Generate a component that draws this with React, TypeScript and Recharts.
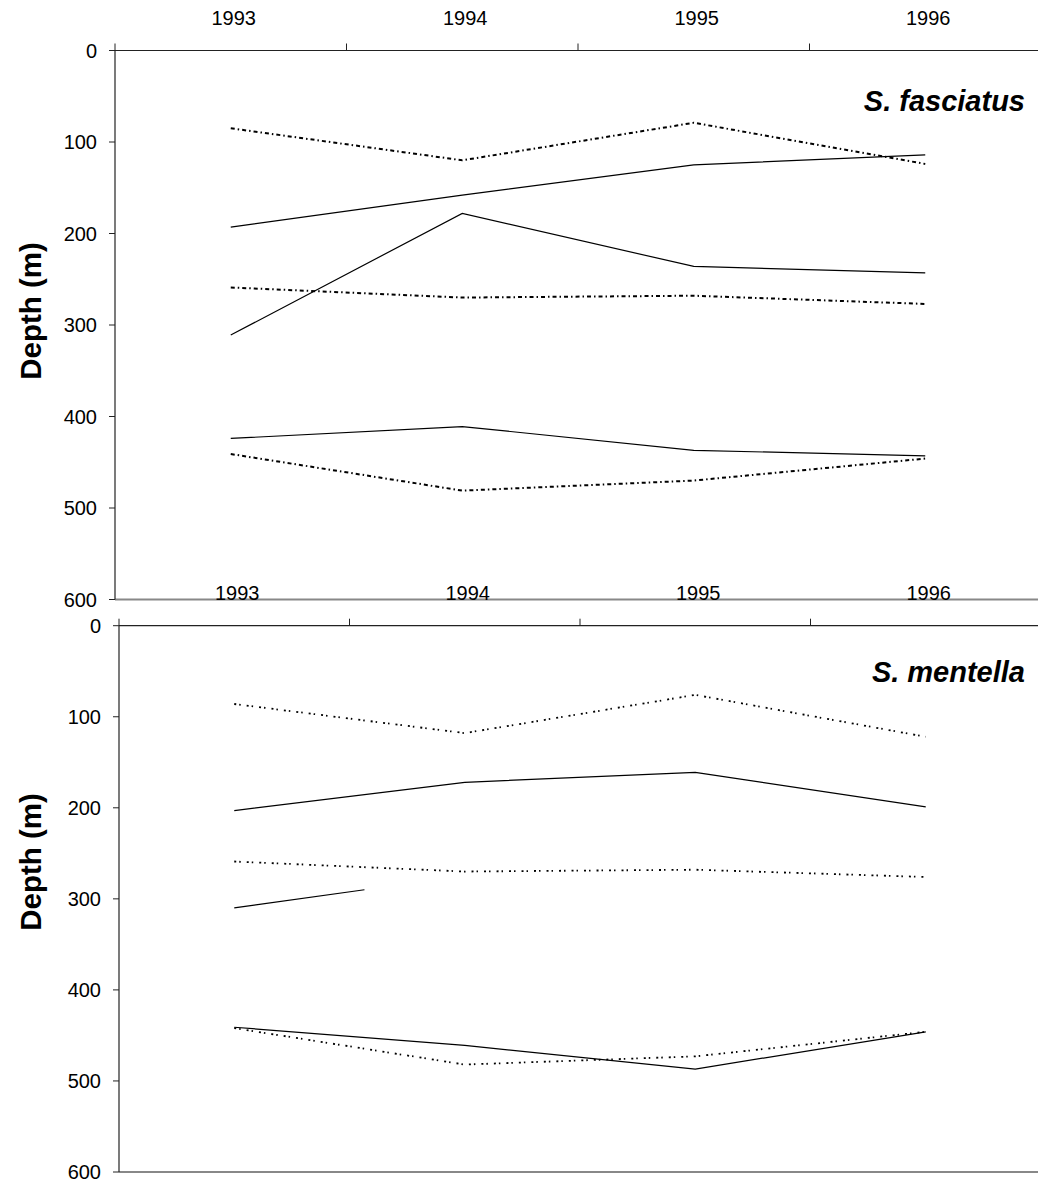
import { LineChart, Line, XAxis, YAxis, ReferenceLine } from "recharts";

const FONT = "'Liberation Sans', Arial, sans-serif";

const years = [1993, 1994, 1995, 1996];
const yearTicks = [1992.5, 1993, 1993.5, 1994, 1994.5, 1995, 1995.5, 1996];
const depthTicks = [0, 100, 200, 300, 400, 500, 600];

// S. fasciatus
const fasUpperDash = [85, 120, 79, 124];
const fasUpperSolid = [193, 158, 125, 114];
const fasMidSolid = [311, 178, 236, 243];
const fasMidDash = [259, 270, 268, 277];
const fasLowSolid = [424, 411, 437, 443];
const fasLowDash = [441, 481, 470, 446];

// S. mentella
const menUpperDash = [86, 118, 76, 122];
const menUpperSolid = [203, 172, 161, 199];
const menMidDash = [259, 270, 268, 276];
const menShortYears = [1993, 1993.565];
const menShortSolid = [310, 290];
const menLowSolid = [441, 461, 487, 446];
const menLowDash = [442, 482, 473, 446];

const toRows = (xs: number[], vals: number[]) =>
	xs.map((year, i) => ({ year, depth: vals[i] }));

const YearTick = (props: any) => {
	const { x, y, payload } = props;
	const v = payload.value as number;
	if (Number.isInteger(v)) {
		return (
			<text x={x + 3} y={y - 19} textAnchor="middle" fontSize={20} fill="#000" fontFamily={FONT}>
				{v}
			</text>
		);
	}
	return <line x1={x} x2={x} y1={y} y2={y + 7} stroke="#222" strokeWidth={1} />;
};

type Series = { rows: { year: number; depth: number }[]; dash?: boolean };

const Panel = ({
	series,
	axisWidth,
	marginTop,
	height,
	dash,
	dashWidth,
}: {
	series: Series[];
	axisWidth: number;
	marginTop: number;
	height: number;
	dash: string;
	dashWidth: number;
}) => (
	<LineChart
		width={1050}
		height={height}
		margin={{ top: marginTop, right: 9, bottom: 12, left: 0 }}
		style={{ overflow: "visible" }}
	>
		<XAxis
			type="number"
			dataKey="year"
			orientation="top"
			domain={[1992.5, 1996.5]}
			ticks={yearTicks}
			interval={0}
			allowDataOverflow
			tickLine={false}
			tickSize={7}
			tickMargin={0}
			height={30}
			tick={<YearTick />}
			axisLine={{ stroke: "#222", strokeWidth: 1.2 }}
		/>
		<YAxis
			type="number"
			reversed
			domain={[0, 600]}
			ticks={depthTicks}
			interval={0}
			width={axisWidth}
			tickSize={6}
			tickMargin={12}
			tick={{ fontSize: 20, fill: "#000", fontFamily: FONT }}
			tickLine={{ stroke: "#222" }}
			axisLine={{ stroke: "#222", strokeWidth: 1.2 }}
		/>
		<ReferenceLine y={600} stroke="#888" strokeWidth={1.8} />
		{series.map((s, i) => (
			<Line
				key={i}
				data={s.rows}
				dataKey="depth"
				type="linear"
				stroke="#000"
				strokeWidth={s.dash ? dashWidth : 1.2}
				strokeDasharray={s.dash ? dash : undefined}
				dot={false}
				activeDot={false}
				isAnimationActive={false}
			/>
		))}
	</LineChart>
);

const depthLabel = (top: number) => (
	<div
		style={{
			position: "absolute",
			left: 31,
			top,
			transform: "translate(-50%, -50%) rotate(-90deg)",
			fontFamily: FONT,
			fontWeight: "bold",
			fontSize: 29.5,
			whiteSpace: "nowrap",
		}}
	>
		Depth (m)
	</div>
);

const title = (text: string, top: number) => (
	<div
		style={{
			position: "absolute",
			right: 1038 - 1025,
			top,
			fontFamily: FONT,
			fontWeight: "bold",
			fontStyle: "italic",
			fontSize: 29,
			lineHeight: "30px",
			whiteSpace: "nowrap",
		}}
	>
		{text}
	</div>
);

export default function App() {
	const fas: Series[] = [
		{ rows: toRows(years, fasUpperDash), dash: true },
		{ rows: toRows(years, fasUpperSolid) },
		{ rows: toRows(years, fasMidSolid) },
		{ rows: toRows(years, fasMidDash), dash: true },
		{ rows: toRows(years, fasLowSolid) },
		{ rows: toRows(years, fasLowDash), dash: true },
	];
	const men: Series[] = [
		{ rows: toRows(years, menUpperDash), dash: true },
		{ rows: toRows(years, menUpperSolid) },
		{ rows: toRows(years, menMidDash), dash: true },
		{ rows: toRows(menShortYears, menShortSolid) },
		{ rows: toRows(years, menLowSolid) },
		{ rows: toRows(years, menLowDash), dash: true },
	];

	return (
		<div
			style={{
				position: "absolute",
				left: 0,
				top: 0,
				width: 1038,
				height: 1184,
				overflow: "hidden",
				background: "#fff",
			}}
		>
			<div style={{ position: "absolute", left: 0, top: 0 }}>
				<Panel
					series={fas}
					axisWidth={115}
					marginTop={20.5}
					height={611.5}
					dash="4 3 1.5 3"
					dashWidth={2}
				/>
			</div>
			<div style={{ position: "absolute", left: 0, top: 560 }}>
				<Panel
					series={men}
					axisWidth={119}
					marginTop={35.7}
					height={624}
					dash="2 3 1.5 6"
					dashWidth={1.8}
				/>
			</div>
			{depthLabel(311)}
			{depthLabel(862)}
			{title("S. fasciatus", 86)}
			{title("S. mentella", 657)}
		</div>
	);
}
